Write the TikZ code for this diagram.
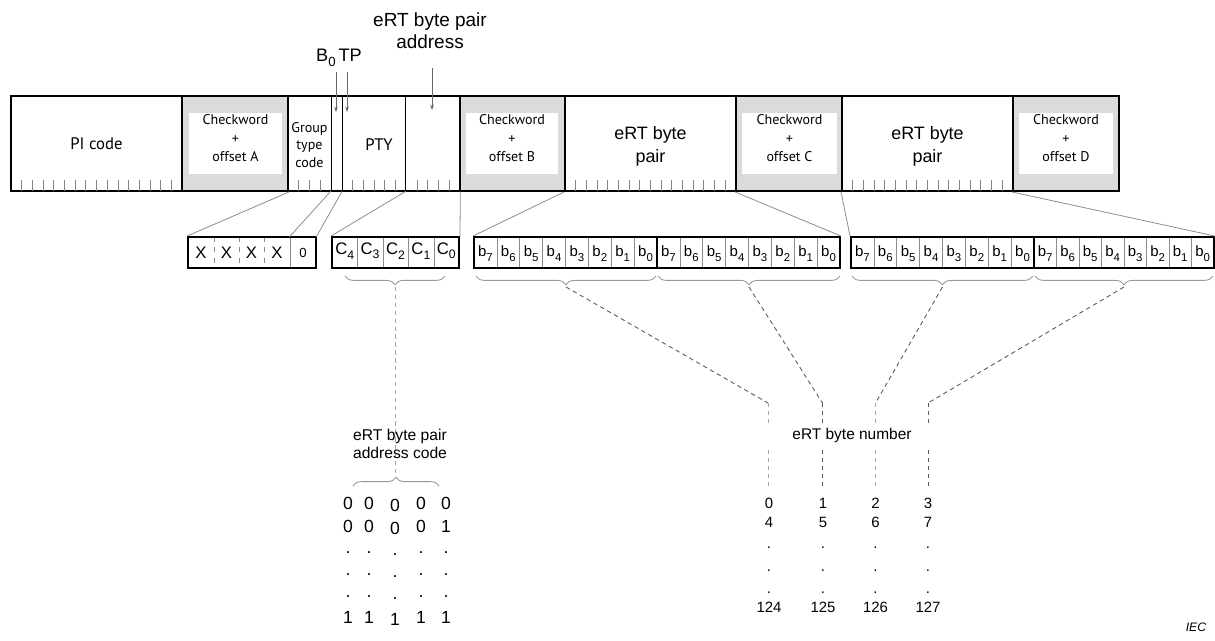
\documentclass[tikz,border=0pt]{standalone}
\usepackage{fontspec}
\setmainfont{Liberation Sans}
\newfontfamily\pts{PT Sans}
\usetikzlibrary{fit,decorations.pathreplacing,arrows.meta}
\newcommand\bitlab[1]{b\raisebox{-0.55ex}{\fontsize{6.5}{7}\selectfont#1}}
\newcommand\clab[1]{C\raisebox{-0.55ex}{\fontsize{7}{8}\selectfont#1}}
\begin{document}
\begin{tikzpicture}[x=0.02cm,y=-0.02cm,
  blk/.style={draw=black, line width=1.1pt, inner sep=0pt},
  ckf/.style={blk, fill=black!14},
  fld/.style={inner sep=0pt},
  wbox/.style={fill=white, inner sep=0pt, align=center, font=\pts\fontsize{8}{10.5}\selectfont},
  pilab/.style={font=\pts\fontsize{9.5}{11}\selectfont},
  ertlab/.style={align=center, font=\fontsize{10.2}{13}\selectfont},
  tick/.style={draw=black!50, line width=0.4pt},
  thin/.style={draw=black, line width=0.5pt},
  conn/.style={draw=black!45, line width=0.45pt},
  brc/.style={draw=black!40, line width=0.5pt, decorate, decoration={brace, amplitude=5pt}},
  brcm/.style={brc, decoration={brace, mirror, amplitude=5pt}},
  dsh/.style={draw=black!65, line width=0.5pt, dash pattern=on 2.5pt off 2pt},
  dshl/.style={draw=black!35, line width=0.5pt, dash pattern=on 2.5pt off 2pt},
  cellsep/.style={draw=black!45, line width=0.4pt},
  bitbox/.style={draw=black, line width=1.1pt, inner sep=0pt},
  blab/.style={inner sep=0pt, font=\fontsize{8.5}{10}\selectfont},
  clabs/.style={inner sep=0pt, font=\fontsize{9.5}{11}\selectfont},
  arr/.style={draw=black!60, line width=0.4pt, -{Stealth[length=3pt,width=2pt]}},
  num/.style={inner sep=0pt, font=\fontsize{8.5}{10}\selectfont},
  bit/.style={inner sep=0pt, font=\fontsize{10}{12}\selectfont}
]
\useasboundingbox (0,0) rectangle (1215,640);

% ---------- top labels ----------
\node[align=center, font=\fontsize{10.8}{12.5}\selectfont] (ttl) at (430,31) {eRT byte pair\\address};
\node[font=\fontsize{10.3}{12}\selectfont] (bt) at (339,58) {B\raisebox{-0.55ex}{\fontsize{7.5}{8}\selectfont 0}\,TP};

% ---------- block fields ----------
\node[ckf, fit={(182,96)(288,191)}] (ckA) {};
\node[ckf, fit={(460,96)(565,191)}] (ckB) {};
\node[ckf, fit={(736,96)(842,191)}] (ckC) {};
\node[ckf, fit={(1013,96)(1119,191)}] (ckD) {};
\node[wbox, fit={(189,113)(282,174)}] (wA) {Checkword\\+\\offset A};
\node[wbox, fit={(466,113)(558,174)}] (wB) {Checkword\\+\\offset B};
\node[wbox, fit={(742,113)(837,174)}] (wC) {Checkword\\+\\offset C};
\node[wbox, fit={(1019,113)(1113,174)}] (wD) {Checkword\\+\\offset D};

\node[blk, fit={(11,96)(182,191)}] (pi) {};
\node[pilab] at (pi.center) {PI code};
\node[blk, fit={(288,96)(460,191)}] (blkB) {};
\node[blk, fit={(565,96)(736,191)}] (pair1) {};
\node[ertlab] at (650.5,146) {eRT byte\\pair};
\node[blk, fit={(842,96)(1013,191)}] (pair2) {};
\node[ertlab] at (927.5,146) {eRT byte\\pair};

\node[fld, fit={(288,96)(331,191)}] (gtc) {};
\node[fld, align=center, font=\pts\fontsize{8}{10.2}\selectfont] at (309.5,145) {Group\\type\\code};
\node[fld, fit={(331,96)(341.75,191)}] (bzero) {};
\node[fld, fit={(341.75,96)(352.5,191)}] (tp) {};
\node[fld, fit={(352.5,96)(406,191)}] (pty) {};
\node[pilab] at (379,145) {PTY};
\node[fld, fit={(406,96)(460,191)}] (addr) {};

\draw[thin] (gtc.north east) -- (gtc.south east);
\draw[thin] (bzero.north east) -- (bzero.south east);
\draw[thin] (addr.north west) -- (addr.south west);
\node[blk, fit={(288,96)(460,191)}] {};

% ticks
\foreach \k in {1,...,15} {
  \draw[tick] ({11+\k*10.69},180) -- ++(0,11);
  \draw[tick] ({565+\k*10.67},180) -- ++(0,11);
  \draw[tick] ({842+\k*10.67},180) -- ++(0,11);
}
\foreach \xx in {298.75,309.5,320.25,352.5,363.25,374,384.75,395.5,417,427.75,438.5,449.25}
  \draw[tick] (\xx,180) -- ++(0,11);

% arrows from labels
\coordinate (ab0s) at (336,72);  \coordinate (ab0e) at (336,112);
\coordinate (atps) at (347,72);  \coordinate (atpe) at (347,112);
\coordinate (aads) at (432,68);  \coordinate (aade) at (432,110);
\draw[arr] (ab0s) -- (ab0e);
\draw[arr] (atps) -- (atpe);
\draw[arr] (aads) -- (aade);

% ---------- bit boxes ----------
% XXXX0
\node[fld, fit={(188,237)(214,268)}] (x4) {};
\node[fld, fit={(214,237)(239,268)}] (x3) {};
\node[fld, fit={(239,237)(264,268)}] (x2) {};
\node[fld, fit={(264,237)(290,268)}] (x1) {};
\node[fld, fit={(290,237)(316,268)}] (x0) {};
\foreach \n in {x4,x3,x2} \draw[cellsep, dashed] (\n.north east) -- (\n.south east);
\draw[cellsep] (x1.north east) -- (x1.south east);
\node[bitbox, fit={(188,237)(316,268)}] (xbox) {};
\foreach \n in {x4,x3,x2,x1} \node[clabs] at (\n.center) {X};
\node[inner sep=0pt, font=\fontsize{7.5}{9}\selectfont] at (x0.center) {0};

% C box
\node[fld, fit={(332,237)(357.4,268)}] (c4) {};
\node[fld, fit={(357.4,237)(382.8,268)}] (c3) {};
\node[fld, fit={(382.8,237)(408.2,268)}] (c2) {};
\node[fld, fit={(408.2,237)(433.6,268)}] (c1) {};
\node[fld, fit={(433.6,237)(459,268)}] (c0) {};
\foreach \n in {c4,c3,c2,c1} \draw[cellsep] (\n.north east) -- (\n.south east);
\node[bitbox, fit={(332,237)(459,268)}] (cbox) {};
\foreach \n/\d in {c4/4,c3/3,c2/2,c1/1,c0/0} \node[clabs] at ([yshift=1pt]\n.center) {\clab{\d}};

% byte boxes
\foreach \s/\w/\nm in {474/183/byA, 657/183/byB, 851/183/byC, 1034/180/byD} {
  \foreach \i in {1,...,7} \draw[cellsep] ({\s+\i*\w/8},237) -- ({\s+\i*\w/8},268);
  \node[bitbox, fit={(\s,237)({\s+\w},268)}] (\nm) {};
  \foreach \i [evaluate=\i as \xc using {\s+(\i+0.5)*\w/8}, evaluate=\i as \d using {int(7-\i)}] in {0,...,7}
    \node[blab] at (\xc,253.5) {\bitlab{\d}};
}

% ---------- connectors from block to bit boxes ----------
\draw[conn] (ckA.south east) -- (xbox.north west);
\draw[conn] (bzero.south west) -- (x0.north west);
\draw[conn] (bzero.south east) -- (x0.north east);
\draw[conn] (addr.south west) -- (cbox.north west);
\draw[conn] (addr.south east) -- (cbox.north east);
\draw[conn] (pair1.south west) -- (byA.north west);
\draw[conn] (ckC.south west) -- (byB.north east);
\draw[conn] (pair2.south west) -- (byC.north west);
\draw[conn] (ckD.south west) -- (byD.north east);

% ---------- braces ----------
\draw[brcm] (345,276) -- (445,276);
\draw[brcm] (476,276) -- (656,276);
\draw[brcm] (658,276) -- (840,276);
\draw[brcm] (852,276) -- (1033,276);
\draw[brcm] (1035,276) -- (1213,276);
\coordinate (tc) at (395,287);
\coordinate (tb1) at (566,287);
\coordinate (tb2) at (749,287);
\coordinate (tb3) at (942.5,287);
\coordinate (tb4) at (1124,287);

% ---------- address code ----------
\coordinate (tcend) at (395,476);
\draw[dshl] (tc) -- (tcend);
\node[align=center, font=\fontsize{8.9}{10.3}\selectfont] (acl) at (400,444) {eRT byte pair\\address code};
\draw[brc] (353,486) -- (439,486);
\foreach \xx [count=\c] in {348,369,395,421,446} {
  \pgfmathsetmacro\dy{\c==3 ? 2 : 0}
  \node[bit] at (\xx,{503+\dy}) {0};
  \node[bit] at (\xx,{526+\dy}) {\ifnum\c=5 1\else 0\fi};
  \node[bit] at (\xx,{553+\dy}) {.};
  \node[bit] at (\xx,{575+\dy}) {.};
  \node[bit] at (\xx,{597+\dy}) {.};
  \node[bit] at (\xx,{617+\dy}) {1};
}

% ---------- byte numbers ----------
\coordinate (k0) at (768,403); \coordinate (k1) at (822.5,403);
\coordinate (k2) at (875.5,403); \coordinate (k3) at (928,403);
\draw[dsh] (tb1) -- (k0);
\draw[dsh] (tb2) -- (k1);
\draw[dsh] (tb3) -- (k2);
\draw[dsh] (tb4) -- (k3);
\foreach \k/\st in {k0/dshl,k1/dsh,k2/dshl,k3/dsh} {
  \draw[\st] (\k) -- ++(0,21);
  \draw[\st] ([yshift=-0.94cm]\k) -- ++(0,37);
}
\node[font=\fontsize{8.8}{10}\selectfont] (ebn) at (852,435) {eRT byte number};
\foreach \xx/\a/\b/\z in {769/0/4/124, 823/1/5/125, 875.5/2/6/126, 928/3/7/127} {
  \node[num] at (\xx,503) {\a};
  \node[num] at (\xx,522) {\b};
  \node[num] at (\xx,548) {.};
  \node[num] at (\xx,571) {.};
  \node[num] at (\xx,593) {.};
  \node[num] at (\xx,607) {\z};
}

\node[font=\itshape\fontsize{7}{8}\selectfont] (iec) at (1196,627) {IEC};
\end{tikzpicture}
\end{document}
